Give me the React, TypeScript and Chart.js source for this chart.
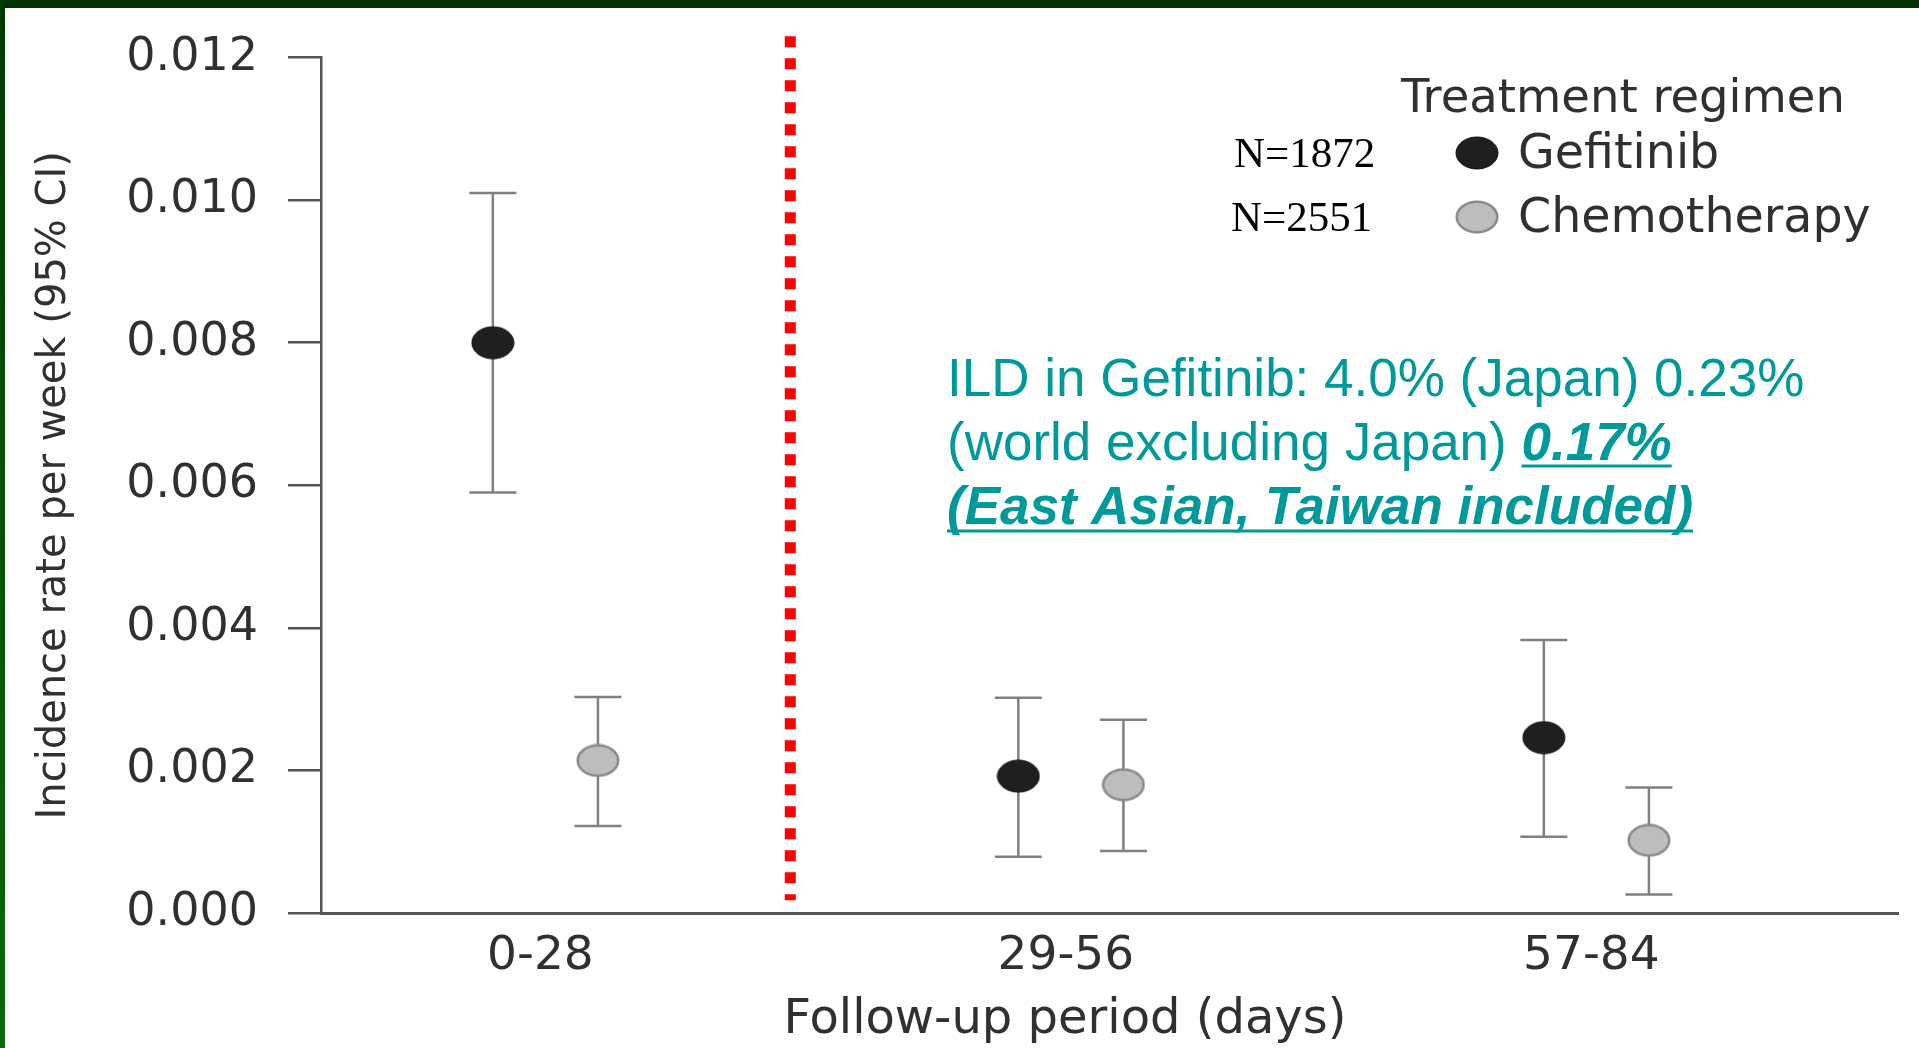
import React, { useEffect, useRef } from 'react';
import { Chart, registerables } from 'chart.js';

Chart.register(...registerables);

// ---------- data ----------
const periods = ['0-28', '29-56', '57-84'];
const periodPositions = [1, 2, 3];
const groupOffsets = [-0.1, 0.1];
const seriesNames = ['Gefitinib', 'Chemotherapy'];
const sampleSizes = ['N=1872', 'N=2551'];

const gefitinibRate = [0.0080, 0.00192, 0.00246];
const gefitinibLower = [0.0059, 0.00079, 0.00107];
const gefitinibUpper = [0.0101, 0.00302, 0.00383];

const chemoRate = [0.00214, 0.0018, 0.00102];
const chemoLower = [0.00122, 0.00087, 0.00026];
const chemoUpper = [0.00303, 0.00271, 0.00176];

const yTicks = [0, 0.002, 0.004, 0.006, 0.008, 0.010, 0.012];
const dividerX = 1.466;
const dividerY = [0.0123, 0.00018];

const yTitle = 'Incidence rate per week (95% CI)';
const xTitle = 'Follow-up period (days)';
const legendTitle = 'Treatment regimen';
const noteLine1 = 'ILD in Gefitinib: 4.0% (Japan) 0.23%';
const noteLine2a = '(world excluding Japan) ';
const noteLine2b = '0.17%';
const noteLine3 = '(East Asian, Taiwan included)';

// ---------- styles ----------
const SANS = '"DejaVu Sans", sans-serif';
const ARIAL = '"Liberation Sans", Arial, sans-serif';
const SERIF = '"Liberation Serif", "Times New Roman", serif';
const TEXT = '#303030';
const TEAL = '#009999';
const AXIS = '#555555';

function makeEllipse(w: number, h: number, fill: string, stroke: string, lw: number) {
  const c = document.createElement('canvas');
  c.width = w;
  c.height = h;
  const g = c.getContext('2d')!;
  g.beginPath();
  g.ellipse(w / 2, h / 2, w / 2 - lw / 2 - 0.5, h / 2 - lw / 2 - 0.5, 0, 0, Math.PI * 2);
  g.fillStyle = fill;
  g.fill();
  if (lw > 0) {
    g.lineWidth = lw;
    g.strokeStyle = stroke;
    g.stroke();
  }
  return c;
}

export default function App() {
  const canvasRef = useRef<HTMLCanvasElement | null>(null);

  useEffect(() => {
    const canvas = canvasRef.current;
    if (!canvas) return;

    const markers = [
      makeEllipse(44, 34, '#1f1f1f', '#111111', 1),
      makeEllipse(44, 34, '#bdbdbd', '#8a8a8a', 2.5),
    ];

    const mk = (rate: number[], lo: number[], hi: number[], off: number) =>
      periodPositions.map((p, i) => ({ x: p + off, y: rate[i], lo: lo[i], hi: hi[i] }));

    const errorBarPlugin = {
      id: 'errorBars',
      beforeDatasetsDraw(chart: any) {
        const { ctx, scales } = chart;
        const x = scales.x;
        const y = scales.y;
        ctx.save();
        ctx.strokeStyle = '#808080';
        ctx.lineWidth = 2.5;
        chart.data.datasets.forEach((ds: any) => {
          if (!ds.errorBars) return;
          ds.data.forEach((pt: any) => {
            const px = x.getPixelForValue(pt.x);
            const top = y.getPixelForValue(pt.hi);
            const bot = y.getPixelForValue(pt.lo);
            ctx.beginPath();
            ctx.moveTo(px, top);
            ctx.lineTo(px, bot);
            ctx.moveTo(px - 23.5, top);
            ctx.lineTo(px + 23.5, top);
            ctx.moveTo(px - 23.5, bot);
            ctx.lineTo(px + 23.5, bot);
            ctx.stroke();
          });
        });
        ctx.restore();
      },
    };

    const overlayPlugin = {
      id: 'overlay',
      afterDraw(chart: any) {
        const ctx = chart.ctx;
        ctx.save();
        ctx.textAlign = 'left';
        ctx.textBaseline = 'middle';
        // x-axis title
        ctx.fillStyle = TEXT;
        ctx.font = `48px ${SANS}`;
        ctx.textAlign = 'center';
        ctx.fillText(xTitle, 1065, 1021);
        ctx.textAlign = 'left';
        // legend
        ctx.font = `46.5px ${SANS}`;
        ctx.fillText(legendTitle, 1401, 100);
        const rowsY = [153, 217];
        const nX = [1234, 1231];
        seriesNames.forEach((name, i) => {
          const m = markers[i];
          ctx.drawImage(m, 1477 - m.width / 2, rowsY[i] - m.height / 2);
          ctx.fillStyle = TEXT;
          ctx.font = `47.5px ${SANS}`;
          ctx.fillText(name, 1518, rowsY[i] + 3);
          ctx.fillStyle = '#000000';
          ctx.font = `43px ${SERIF}`;
          ctx.fillText(sampleSizes[i], nX[i], rowsY[i] + 3);
        });
        // annotation
        ctx.textBaseline = 'alphabetic';
        ctx.fillStyle = TEAL;
        ctx.strokeStyle = TEAL;
        ctx.lineWidth = 3;
        const left = 947;
        ctx.font = `53px ${ARIAL}`;
        ctx.fillText(noteLine1, left, 396);
        ctx.fillText(noteLine2a, left, 460);
        const w2a = ctx.measureText(noteLine2a).width;
        ctx.font = `italic bold 53px ${ARIAL}`;
        ctx.fillText(noteLine2b, left + w2a, 460);
        const w2b = ctx.measureText(noteLine2b).width;
        ctx.beginPath();
        ctx.moveTo(left + w2a, 466);
        ctx.lineTo(left + w2a + w2b, 466);
        ctx.stroke();
        ctx.fillText(noteLine3, left, 524);
        const w3 = ctx.measureText(noteLine3).width;
        ctx.beginPath();
        ctx.moveTo(left, 531);
        ctx.lineTo(left + w3, 531);
        ctx.stroke();
        ctx.restore();
      },
    };

    const chart = new Chart(canvas, {
      type: 'scatter',
      data: {
        datasets: [
          {
            label: seriesNames[0],
            data: mk(gefitinibRate, gefitinibLower, gefitinibUpper, groupOffsets[0]),
            pointStyle: markers[0] as any,
            pointRadius: 20,
            errorBars: true,
          } as any,
          {
            label: seriesNames[1],
            data: mk(chemoRate, chemoLower, chemoUpper, groupOffsets[1]),
            pointStyle: markers[1] as any,
            pointRadius: 20,
            errorBars: true,
          } as any,
          {
            label: 'divider',
            data: [
              { x: dividerX, y: dividerY[0] },
              { x: dividerX, y: dividerY[1] },
            ],
            showLine: true,
            borderColor: '#ff0000',
            borderWidth: 11,
            borderDash: [11, 11],
            borderCapStyle: 'butt',
            pointRadius: 0,
            clip: false as any,
          } as any,
        ],
      },
      options: {
        responsive: true,
        maintainAspectRatio: false,
        animation: false,
        layout: { padding: { top: 57, right: 20, left: 0, bottom: 0 } },
        plugins: {
          legend: { display: false },
          tooltip: { enabled: false },
        },
        scales: {
          x: {
            type: 'linear',
            min: 0.573,
            max: 3.574,
            afterBuildTicks: (s: any) => {
              s.ticks = periodPositions.map((v) => ({ value: v }));
            },
            afterFit: (s: any) => {
              s.height = 135;
            },
            ticks: {
              callback: (v: any) => {
                const i = periodPositions.indexOf(Number(v));
                return i >= 0 ? periods[i] : '';
              },
              font: { family: SANS, size: 47 },
              color: TEXT,
              padding: 16,
              labelOffset: -5,
              autoSkip: false,
              maxRotation: 0,
            },
            grid: { drawOnChartArea: false, drawTicks: false },
            border: { color: AXIS, width: 3 },
            title: { display: false },
          },
          y: {
            type: 'linear',
            min: 0,
            max: 0.012,
            afterBuildTicks: (s: any) => {
              s.ticks = yTicks.map((v) => ({ value: v }));
            },
            afterFit: (s: any) => {
              s.width = 321;
            },
            ticks: {
              callback: (v: any) => Number(v).toFixed(3),
              font: { family: SANS, size: 46 },
              color: TEXT,
              padding: 30,
            },
            grid: {
              drawOnChartArea: false,
              drawTicks: true,
              tickLength: 33,
              tickColor: AXIS,
              lineWidth: 2.5,
              color: AXIS,
            },
            border: { color: AXIS, width: 2.5 },
            title: {
              display: true,
              text: yTitle,
              font: { family: SANS, size: 40 },
              color: TEXT,
              padding: { top: 31, bottom: 0 },
            },
          },
        },
      } as any,
      plugins: [errorBarPlugin, overlayPlugin],
    });

    return () => {
      chart.destroy();
    };
  }, []);

  return (
    <div
      style={{
        position: 'fixed',
        left: 0,
        top: 0,
        width: 1919,
        height: 1048,
        background: '#ffffff',
        overflow: 'hidden',
      }}
    >
      <canvas ref={canvasRef} style={{ position: 'absolute', left: 0, top: 0 }} />
      <div
        style={{
          position: 'absolute',
          left: 0,
          top: 0,
          width: 1919,
          height: 8,
          background: '#013301',
        }}
      />
      <div
        style={{
          position: 'absolute',
          left: 0,
          top: 0,
          width: 5,
          height: 1048,
          background: 'linear-gradient(#023a02, #066806)',
        }}
      />
    </div>
  );
}
